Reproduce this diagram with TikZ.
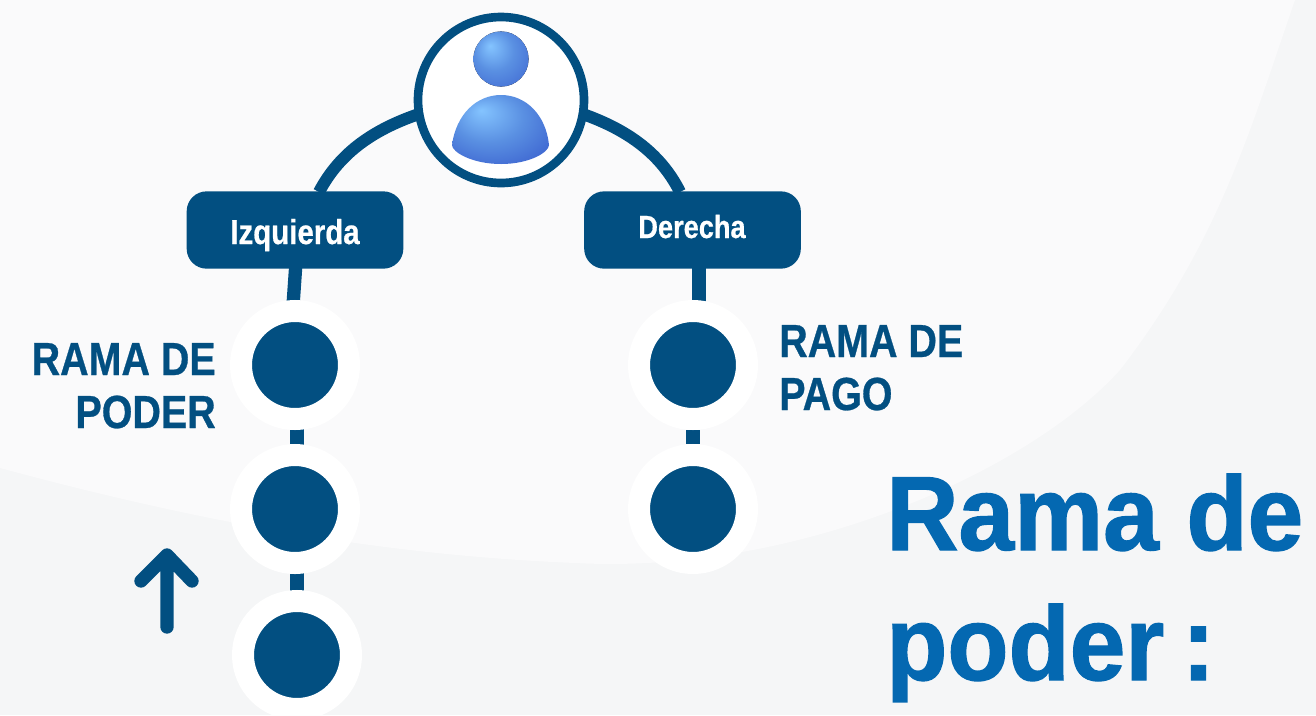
\documentclass[tikz,border=0pt]{standalone}
\usepackage{fontspec}
\setmainfont{Liberation Sans}
\newfontfamily\labfont[FakeStretch=0.85,FakeBold=0.6]{Liberation Sans}
\newfontfamily\titlefont[FakeStretch=0.95,FakeBold=1.2]{Liberation Sans}
\usetikzlibrary{backgrounds}
\definecolor{navy}{HTML}{024F81}
\definecolor{titleblue}{HTML}{0468B1}
\definecolor{bglight}{HTML}{FAFAFB}
\definecolor{bgdark}{HTML}{F5F6F7}
\definecolor{ballA}{HTML}{84C4FF}
\definecolor{ballB}{HTML}{5A90E2}
\definecolor{ballC}{HTML}{4069D2}
\pgfdeclareradialshading{headball}{\pgfpoint{-10bp}{12bp}}{color(0bp)=(ballA);color(18bp)=(ballB);color(38bp)=(ballC);color(50bp)=(ballC)}
\pgfdeclareradialshading{bodyball}{\pgfpoint{-10bp}{14bp}}{color(0bp)=(ballA);color(18bp)=(ballB);color(34bp)=(ballC);color(50bp)=(ballC)}
\tikzset{
  x=0.75pt,y=-0.75pt,
  link/.style={draw=navy,line width=10pt},
  armlink/.style={draw=navy,line width=9pt},
  dot/.style={circle,fill=navy,draw=white,line width=16.5pt,minimum size=81pt,inner sep=0pt},
  branch/.style={rectangle,rounded corners=15pt,fill=navy,text=white,minimum width=162.5pt,minimum height=58pt,inner sep=0pt},
  ramalabel/.style={text=navy,font=\labfont\fontsize{34.8}{40}\bfseries\selectfont,inner sep=0pt},
  titletext/.style={text=titleblue,font=\titlefont\fontsize{79}{98}\bfseries\selectfont,inner sep=0pt,align=left},
  hub/.style={circle,fill=white,draw=navy,line width=6.5pt,minimum size=124.5pt,inner sep=0pt},
}
\begin{document}
\begin{tikzpicture}
\useasboundingbox (0,0) rectangle (1316,715);
\node[hub] (hub) at (501,100) {};
\node[branch] (izq) at (295,230) {};
\node[branch] (der) at (692.5,230) {};
\node[text=white,inner sep=0pt,anchor=base,font=\labfont\fontsize{26}{30}\bfseries\selectfont] (izqt) at (295,244) {Izquierda};
\node[text=white,inner sep=0pt,anchor=base,font=\labfont\fontsize{24}{28}\bfseries\selectfont] (dert) at (692,238) {Derecha};
\node[dot] (d1) at (295,365) {};
\node[dot] (d2) at (295,509) {};
\node[dot] (d3) at (297,655) {};
\node[dot] (e1) at (693,365) {};
\node[dot] (e2) at (693,509) {};
\coordinate (aT) at (167,555);
\coordinate (aB) at (167,627);
\coordinate (aL) at (141,581);
\coordinate (aR) at (192,581);
\coordinate (izqA) at (319,192);
\coordinate (derA) at (680,192);
\coordinate (izqB) at (296,262);
\coordinate (derB) at (699,262);
\coordinate (izqC) at (292,320);
\coordinate (derC) at (699,320);
\coordinate (hubL) at (425,112);
\coordinate (hubR) at (577,112);
\node[ramalabel,anchor=base east] (r1) at (216,375) {RAMA DE};
\node[ramalabel,anchor=base east] (r2) at (216,428) {PODER};
\node[ramalabel,anchor=base west] (r3) at (779,357) {RAMA DE};
\node[ramalabel,anchor=base west] (r4) at (779,410) {PAGO};
\node[titletext,anchor=base west] (t1) at (886,550) {Rama de};
\node[titletext,anchor=base west] (t2) at (886,680) {poder\,:};
\draw[navy,line width=10pt,line cap=round,line join=round] (aB) -- (aT) (aL) -- (aT) -- (aR);
% person
\fill[shading=headball] (501,59) circle (20.7pt);
\path[shading=bodyball] (452,145) .. controls (456,115) and (476,95) .. (501,95) .. controls (526,95) and (546,115) .. (549,145) .. controls (549,152) and (530,164) .. (501,164) .. controls (472,164) and (452,152) .. (452,145) -- cycle;
\begin{scope}[on background layer]
  \fill[bgdark] (0,0) rectangle (1316,715);
  \fill[bglight] (0,0) -- (1295,0) .. controls (1250,130) and (1220,240) .. (1120,370) .. controls (1030,470) and (800,575) .. (575,563) .. controls (380,555) and (200,522) .. (0,468) -- cycle;
  \draw[armlink] (hubL) .. controls (375,128) and (340,152) .. (izqA);
  \draw[armlink] (hubR) .. controls (625,128) and (660,152) .. (derA);
  \draw[link] (izqB) -- (izqC);
  \draw[link] (derB) -- (derC);
  \draw[link] ([xshift=1.5pt]d1.center) -- ([xshift=1.5pt]d2.center);
  \draw[link] ([xshift=1.5pt]d2.center) -- (d3.center);
  \draw[link] (e1) -- (e2);
\end{scope}
\end{tikzpicture}
\end{document}
